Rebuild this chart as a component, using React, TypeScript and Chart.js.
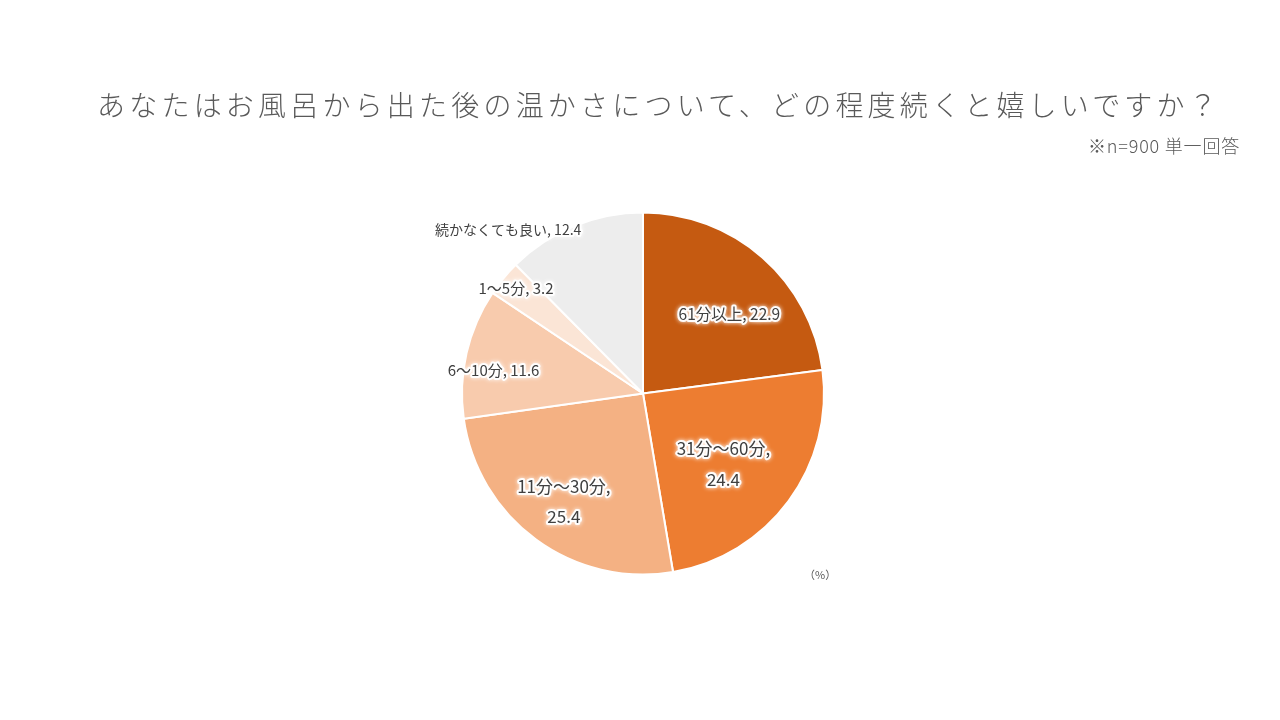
import { useEffect, useRef } from 'react'
import { Chart, registerables } from 'chart.js'

Chart.register(...registerables)

const labels = ['61分以上', '31分～60分', '11分～30分', '6～10分', '1～5分', '続かなくても良い']
const values = [22.9, 24.4, 25.4, 11.6, 3.2, 12.4]
const colors = ['#C55A11', '#ED7D31', '#F4B183', '#F8CBAD', '#FBE5D6', '#EDEDED']

// label placement (fraction of radius, pixel nudges, font size, line break)
const labelRadius = [0.64, 0.58, 0.74, 0.83, 0.91, 1.0]
const labelShiftX = [10, -4, 0, -3, 0, -66]
const labelShiftY = [8, 8, 0, 10, 0, 4]
const labelSize = [15.5, 17, 17, 15, 15, 14]
const labelTwoLines = [false, true, true, false, false, false]

const FONT = '"Noto Sans CJK JP", "Noto Sans", sans-serif'

const sliceLabels = {
  id: 'sliceLabels',
  afterDatasetsDraw(chart: Chart) {
    const c = chart.ctx
    const meta = chart.getDatasetMeta(0)
    c.save()
    c.textAlign = 'center'
    c.textBaseline = 'middle'
    meta.data.forEach((el: any, i: number) => {
      const mid = (el.startAngle + el.endAngle) / 2
      const r = el.outerRadius * labelRadius[i]
      const x = el.x + Math.cos(mid) * r + labelShiftX[i]
      const y = el.y + Math.sin(mid) * r + labelShiftY[i]
      const lines = labelTwoLines[i]
        ? [labels[i] + ',', String(values[i])]
        : [labels[i] + ', ' + values[i]]
      const lh = labelSize[i] * 1.8
      c.font = `${labelSize[i]}px ${FONT}`
      lines.forEach((t, k) => {
        const ty = y + (k - (lines.length - 1) / 2) * lh
        c.lineJoin = 'round'
        c.strokeStyle = 'rgba(255,255,255,0.95)'
        c.lineWidth = 4
        c.shadowColor = 'rgba(255,255,255,1)'
        c.shadowBlur = 4
        c.strokeText(t, x, ty)
        c.shadowBlur = 0
        c.fillStyle = '#404040'
        c.fillText(t, x, ty)
      })
    })
    c.restore()
  },
}

function PieChart() {
  const canvasRef = useRef<HTMLCanvasElement>(null)

  useEffect(() => {
    if (!canvasRef.current) return
    const chart = new Chart(canvasRef.current, {
      type: 'pie',
      data: {
        labels,
        datasets: [{
          data: values,
          backgroundColor: colors,
          borderColor: '#ffffff',
          borderWidth: 2,
        }],
      },
      options: {
        responsive: true,
        maintainAspectRatio: false,
        animation: false,
        layout: { padding: { top: 211, bottom: 144, left: 461, right: 455 } },
        plugins: {
          legend: { display: false },
          tooltip: { enabled: false },
        },
      },
      plugins: [sliceLabels as any],
    })
    return () => chart.destroy()
  }, [])

  return (
    <div style={{ position: 'absolute', left: 0, top: 0, width: 1280, height: 720 }}>
      <canvas ref={canvasRef} />
    </div>
  )
}

export default function App() {
  return (
    <div style={{ position: 'fixed', left: 0, top: 0, width: 1280, height: 720, background: '#fff', fontFamily: FONT, overflow: 'hidden' }}>
      <PieChart />
      <div style={{ position: 'absolute', left: 0, width: 1318, top: 84, textAlign: 'center', fontSize: 28, fontWeight: 300, color: '#595959', letterSpacing: 4.2, whiteSpace: 'nowrap' }}>
        あなたはお風呂から出た後の温かさについて、どの程度続くと嬉しいですか？
      </div>
      <div style={{ position: 'absolute', right: 40, top: 132, fontSize: 18, fontWeight: 300, color: '#595959', letterSpacing: 0.8, whiteSpace: 'nowrap' }}>
        ※n=900 単一回答
      </div>
      <div style={{ position: 'absolute', left: 804, top: 566, fontSize: 11, color: '#595959', whiteSpace: 'nowrap' }}>
        （%）
      </div>
    </div>
  )
}
